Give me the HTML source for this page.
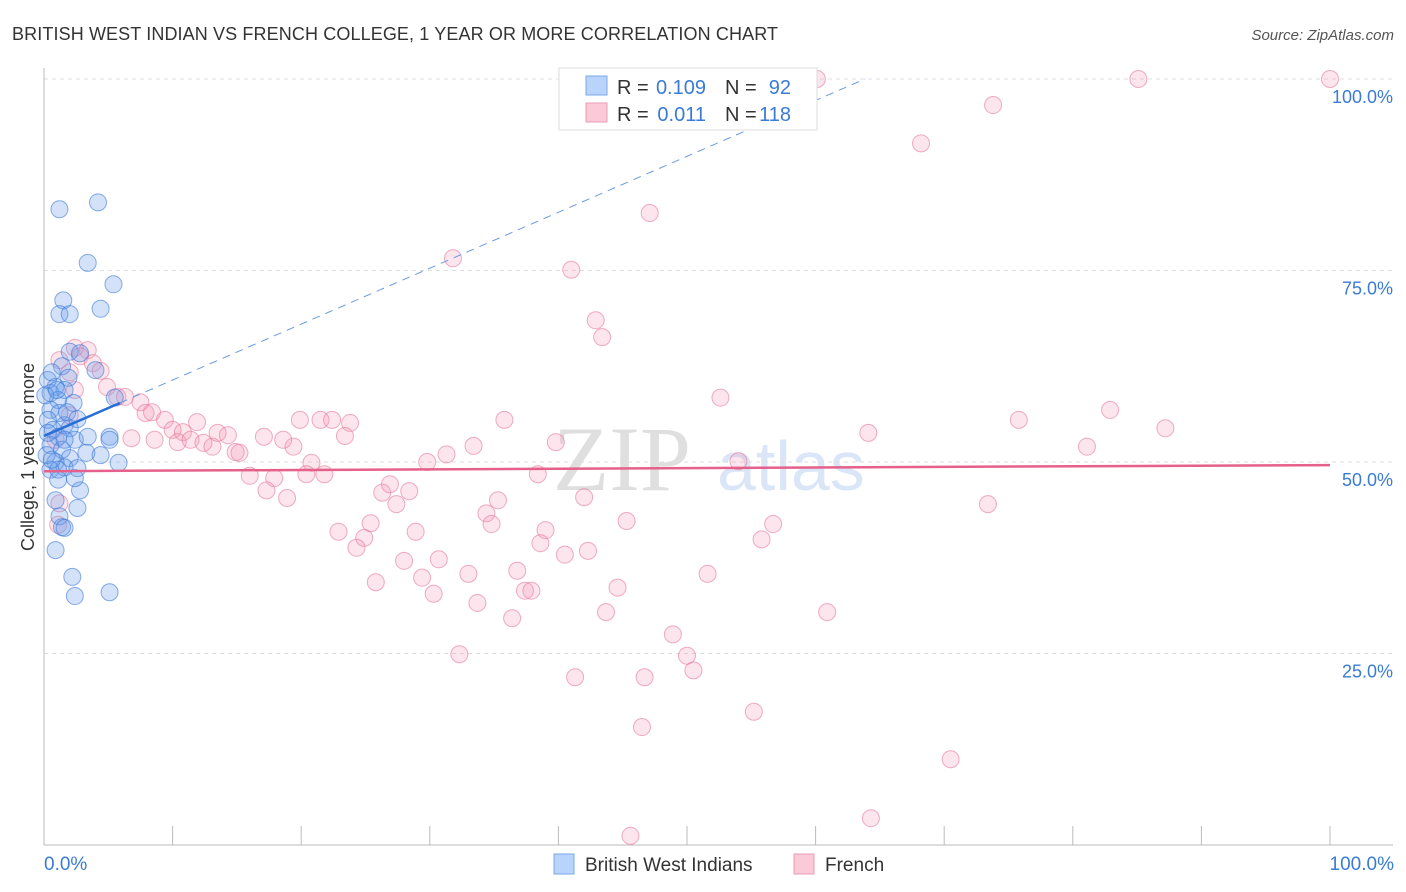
<!DOCTYPE html>
<html><head><meta charset="utf-8"><style>
body{margin:0;background:#fff;font-family:"Liberation Sans",sans-serif}
svg{display:block}
</style></head><body>
<svg id="chart" width="1406" height="892" xmlns="http://www.w3.org/2000/svg">
<text x="12" y="40" font-size="18" fill="#333" textLength="766">BRITISH WEST INDIAN VS FRENCH COLLEGE, 1 YEAR OR MORE CORRELATION CHART</text>
<text x="1394" y="40" font-size="15" fill="#555" font-style="italic" text-anchor="end">Source: ZipAtlas.com</text>
<g opacity="0.18">
<text x="553" y="490" font-size="92" font-family="Liberation Serif,serif" fill="#555">ZIP</text>
<text x="717" y="490" font-size="70" fill="#3a7bd5">atlas</text>
</g>
<g id="grid"></g>
<g id="axes"></g>
<g id="pinkPts"></g>
<g id="bluePts"></g>
<g id="trends"></g>
<text transform="translate(34,457) rotate(-90)" font-size="18" fill="#333" text-anchor="middle">College, 1 year or more</text>
<text x="44" y="870" font-size="19" fill="#3a7bd5">0.0%</text>
<text x="1394" y="870" font-size="19" fill="#3a7bd5" text-anchor="end">100.0%</text>
<g>
<rect x="559" y="68" width="258" height="62" fill="#fff" stroke="#ddd"/>
<rect x="586" y="76" width="21" height="19" fill="#b8d4fa" stroke="#7aa9ea"/>
<text x="617" y="94" font-size="20" fill="#333">R =</text>
<text x="706" y="94" font-size="20" fill="#3a7bd5" text-anchor="end">0.109</text>
<text x="725" y="94" font-size="20" fill="#333">N =</text>
<text x="791" y="94" font-size="20" fill="#3a7bd5" text-anchor="end">92</text>
<rect x="586" y="103" width="21" height="19" fill="#fbcad8" stroke="#ee9bb4"/>
<text x="617" y="121" font-size="20" fill="#333">R =</text>
<text x="706" y="121" font-size="20" fill="#3a7bd5" text-anchor="end">0.011</text>
<text x="725" y="121" font-size="20" fill="#333">N =</text>
<text x="791" y="121" font-size="20" fill="#3a7bd5" text-anchor="end">118</text>
</g>
<g>
<rect x="554" y="854" width="20" height="20" fill="#b8d4fa" stroke="#7aa9ea"/>
<text x="585" y="871" font-size="19" fill="#333">British West Indians</text>
<rect x="794" y="854" width="20" height="20" fill="#fbcad8" stroke="#ee9bb4"/>
<text x="825" y="871" font-size="19" fill="#333">French</text>
</g>
</svg>
<script>
const yTicks=[25,50,75,100];
const yTickLabels=["25.0%","50.0%","75.0%","100.0%"];
const xTicks=[0,10,20,30,40,50,60,70,80,90,100];
const blueX=[4.2,1.2,3.4,5.4,1.5,4.4,1.2,2,2,2.8,1.4,4,1.9,0.9,1.6,0.5,1.1,2.3,5.5,0.5,1.2,0.3,1.6,0.7,2,1.1,2.4,0.5,1.4,3.4,5.1,5.1,3.3,2,0.9,1.6,2.6,0.5,5.8,1.1,2.8,0.9,1.2,2.6,1.4,1.6,0.9,2.2,2.4,5.1,0.3,0.6,0.1,0.2,2.4,1.8,4.4,1.1,0.3,0.6,1.6,2.6,1.0];
const blueY=[83.9,83,76,73.2,71.1,70,69.3,69.3,64.4,64.2,62.5,62,61,59.8,59.4,59,58.1,57.7,58.4,56.8,56.4,55.5,54.8,54.2,54.4,53.3,52.9,52.2,51.6,53.3,53.3,52.9,51.2,50.5,50,49.3,49.2,49,49.9,47.7,46.3,45,42.9,44,41.5,41.4,38.5,35,32.5,33,60.7,61.7,58.7,50.9,47.9,56.5,50.9,49,53.8,50.3,52.9,55.6,59.4];
const pinkX=[60.1,85.1,100,73.8,68.2,47.1,31.8,41,42.9,43.4,52.6,35.8,19.9,21.5,22.4,23.8,23.4,64.1,82.9,87.2,75.8,81.1,39.8,33.4,31.3,29.8,20.8,17.1,19.4,18.6,16,17.9,20.4,21.8,38.4,54,17.3,18.9,26.3,26.9,28.4,27.4,35.3,42,34.4,34.8,25.4,22.9,24.9,24.3,28.9,39,38.6,40.5,42.3,45.3,56.7,55.8,73.4,28,30.7,29.4,33,36.8,25.8,30.3,33.7,37.4,37.9,36.4,44.6,43.7,51.6,60.9,48.9,50,50.5,32.3,41.3,46.7,55.2,46.5,70.5,64.3,45.6,2.4,3.4,2.8,3.8,4.4,2,4.9,2.4,5.7,6.3,7.5,7.9,8.4,9.4,10,8.6,10.8,10.4,11.4,11.9,12.4,13.1,13.5,14.3,14.9,15.2,6.8,1.1,1.2,2,0.9,1.2];
const pinkY=[100,100,100,96.6,91.6,82.5,76.6,75.1,68.5,66.3,58.4,55.5,55.5,55.5,55.5,55.1,53.4,53.8,56.8,54.4,55.5,52,52.6,52.1,51,50,49.9,53.3,52,52.9,48.2,47.9,48.4,48.4,48.4,50.1,46.3,45.3,46,47.1,46.2,44.5,45,45.4,43.3,41.9,42,40.9,40.1,38.8,40.9,41.1,39.4,37.9,38.4,42.3,41.9,39.9,44.5,37.1,37.3,34.9,35.4,35.8,34.3,32.8,31.6,33.2,33.2,29.6,33.6,30.4,35.4,30.4,27.5,24.7,22.8,24.9,21.9,21.9,17.4,15.4,11.2,3.5,1.2,64.9,64.6,63.8,62.9,61.9,61.7,59.8,59.4,58.5,58.5,57.8,56.4,56.5,55.5,54.2,52.9,53.9,52.6,52.9,55.2,52.5,52,53.8,53.5,51.3,51.2,53.1,41.8,44.6,56.1,52.9,63.3];
const blueTrend=[53.4,0.73];
const pinkTrend=[48.8,49.6];
const X=v=>44+v*12.86, Y=v=>845-v*7.66;
const NS="http://www.w3.org/2000/svg";
function mk(tag,attrs,parent){const e=document.createElementNS(NS,tag);for(const k in attrs)e.setAttribute(k,attrs[k]);parent.appendChild(e);return e;}
const grid=document.getElementById('grid'),axes=document.getElementById('axes');
yTicks.forEach((t,i)=>{
 const l=mk('line',{x1:44,x2:1393,y1:Y(t),y2:Y(t),stroke:'#ddd','stroke-dasharray':'4,4'},grid);
 
 
 const tx=mk('text',{x:1393,y:Y(t)+24,'font-size':18,fill:'#3a7bd5','text-anchor':'end'},grid);
 tx.textContent=yTickLabels[i];
 
 
});
const ax=mk('line',{x1:44,x2:1393,y1:845,y2:845,stroke:'#bbb'},axes);


const ay=mk('line',{x1:44,x2:44,y1:68,y2:845,stroke:'#bbb'},axes);


xTicks.forEach(t=>{const l=mk('line',{x1:X(t),x2:X(t),y1:826,y2:845,stroke:'#bbb'},axes);
 
 });
const pp=document.getElementById('pinkPts');
pinkX.forEach((x,i)=>{const c=mk('circle',{cx:X(x),cy:Y(pinkY[i]),r:8.5,fill:'rgba(244,150,180,0.25)',stroke:'rgba(230,120,155,0.6)','stroke-width':1},pp);
 
 });
const bp=document.getElementById('bluePts');
blueX.forEach((x,i)=>{const c=mk('circle',{cx:X(x),cy:Y(blueY[i]),r:8.5,fill:'rgba(110,160,235,0.3)',stroke:'rgba(60,120,215,0.6)','stroke-width':1},bp);
 
 });
const tr=document.getElementById('trends');
const xEnd=(100-blueTrend[0])/blueTrend[1];
const bd=mk('line',{x1:X(5.9),y1:Y(blueTrend[0]+blueTrend[1]*5.9),x2:X(xEnd),y2:Y(100),stroke:'#6a9be0','stroke-dasharray':'8,6','stroke-width':1},tr);


const bs=mk('line',{x1:X(0),y1:Y(blueTrend[0]),x2:X(5.9),y2:Y(blueTrend[0]+blueTrend[1]*5.9),stroke:'#2a6fd6','stroke-width':2.5},tr);


const ps=mk('line',{x1:X(0),y1:Y(pinkTrend[0]),x2:X(100),y2:Y(pinkTrend[1]),stroke:'#e5608a','stroke-width':2.5},tr);


</script>
</body></html>
